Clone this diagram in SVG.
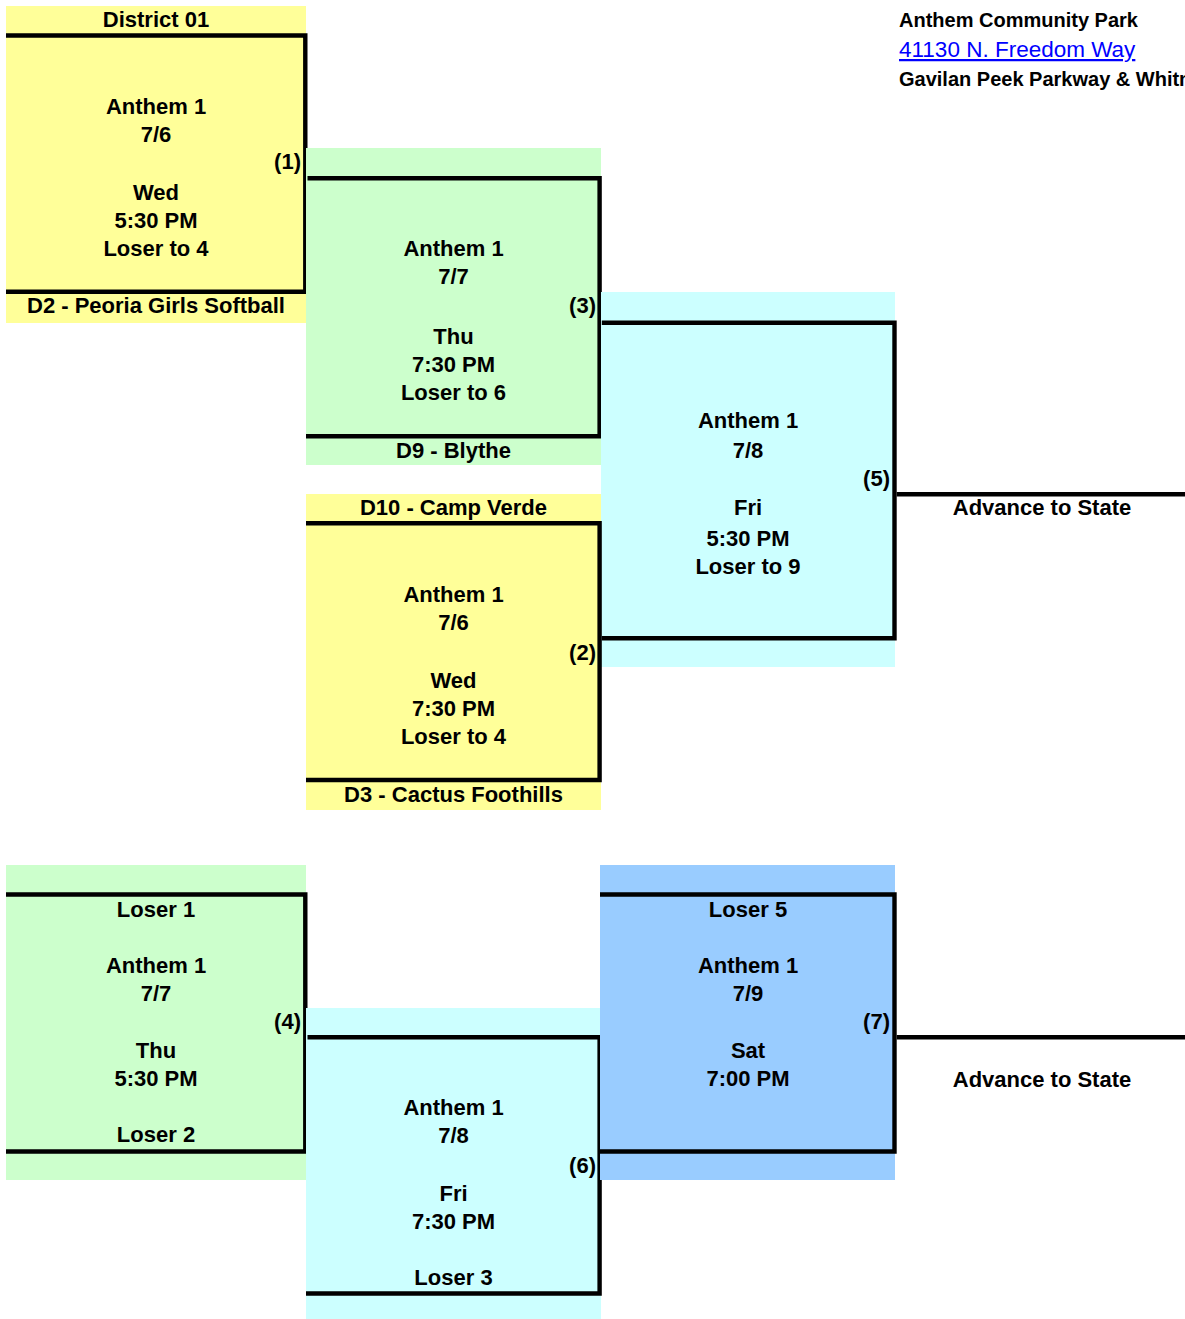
<svg xmlns="http://www.w3.org/2000/svg" width="1185" height="1319" viewBox="0 0 1185 1319">
<style>
.t{font-family:"Liberation Sans",Arial,sans-serif;font-weight:bold;font-size:22px;fill:#000;text-anchor:middle}
.n{font-family:"Liberation Sans",Arial,sans-serif;font-weight:bold;font-size:22px;fill:#000;text-anchor:end}
.h{font-family:"Liberation Sans",Arial,sans-serif;font-weight:bold;font-size:20px;fill:#000}
.lk{font-family:"Liberation Sans",Arial,sans-serif;font-size:22.5px;fill:#0000FF;text-decoration:underline}
.ln{fill:none;stroke:#000;stroke-width:4.4;stroke-linecap:butt;stroke-linejoin:miter}
.y{fill:#FFFF99}.g{fill:#CCFFCC}.c{fill:#CCFFFF}.b{fill:#99CCFF}
</style>
<rect width="1185" height="1319" fill="#fff"/>
<g id="header">
<text class="h" x="899" y="27">Anthem Community Park</text>
<text class="lk" x="899" y="57">41130 N. Freedom Way</text>
<text class="h" x="899" y="86">Gavilan Peek Parkway &amp; Whitn</text>
</g>
<g id="game1">
<rect class="y" x="6" y="6" width="300" height="317"/>
<path class="ln" d="M6,35.5H305.3V291.7H6"/>
<text class="t" x="156" y="27">District 01</text>
<text class="t" x="156" y="114">Anthem 1</text>
<text class="t" x="156" y="142">7/6</text>
<text class="n" x="301" y="169">(1)</text>
<text class="t" x="156" y="200">Wed</text>
<text class="t" x="156" y="228">5:30 PM</text>
<text class="t" x="156" y="256">Loser to 4</text>
<text class="t" x="156" y="313">D2 - Peoria Girls Softball</text>
</g>
<g id="game3">
<rect class="g" x="306" y="148" width="295" height="317"/>
<path class="ln" d="M307.5,178.3H599.6V436.3H306"/>
<text class="t" x="453.5" y="256">Anthem 1</text>
<text class="t" x="453.5" y="284">7/7</text>
<text class="n" x="596" y="313">(3)</text>
<text class="t" x="453.5" y="344">Thu</text>
<text class="t" x="453.5" y="372">7:30 PM</text>
<text class="t" x="453.5" y="400">Loser to 6</text>
<text class="t" x="453.5" y="458">D9 - Blythe</text>
</g>
<g id="game5">
<rect class="c" x="601" y="292" width="294" height="375"/>
<path class="ln" d="M601.8,322.7H894.5V638.3H601.8"/>
<text class="t" x="748" y="428">Anthem 1</text>
<text class="t" x="748" y="458">7/8</text>
<text class="n" x="890" y="486">(5)</text>
<text class="t" x="748" y="515">Fri</text>
<text class="t" x="748" y="546">5:30 PM</text>
<text class="t" x="748" y="574">Loser to 9</text>
</g>
<g id="game2">
<rect class="y" x="306" y="494" width="295" height="316"/>
<path class="ln" d="M306,523.3H599.6V780H306"/>
<text class="t" x="453.5" y="515">D10 - Camp Verde</text>
<text class="t" x="453.5" y="602">Anthem 1</text>
<text class="t" x="453.5" y="630">7/6</text>
<text class="n" x="596" y="660">(2)</text>
<text class="t" x="453.5" y="688">Wed</text>
<text class="t" x="453.5" y="716">7:30 PM</text>
<text class="t" x="453.5" y="744">Loser to 4</text>
<text class="t" x="453.5" y="802">D3 - Cactus Foothills</text>
</g>
<g id="game4">
<rect class="g" x="6" y="865" width="300" height="315"/>
<path class="ln" d="M6,894.5H305.3V1151.5H6"/>
<text class="t" x="156" y="917">Loser 1</text>
<text class="t" x="156" y="973">Anthem 1</text>
<text class="t" x="156" y="1001">7/7</text>
<text class="n" x="301" y="1029">(4)</text>
<text class="t" x="156" y="1058">Thu</text>
<text class="t" x="156" y="1086">5:30 PM</text>
<text class="t" x="156" y="1142">Loser 2</text>
</g>
<g id="game6">
<rect class="c" x="306" y="1008" width="295" height="311"/>
<path class="ln" d="M307.5,1037.3H599.6V1293.5H306"/>
<text class="t" x="453.5" y="1115">Anthem 1</text>
<text class="t" x="453.5" y="1143">7/8</text>
<text class="n" x="596" y="1173">(6)</text>
<text class="t" x="453.5" y="1201">Fri</text>
<text class="t" x="453.5" y="1229">7:30 PM</text>
<text class="t" x="453.5" y="1285">Loser 3</text>
</g>
<g id="game7">
<rect class="b" x="600" y="865" width="295" height="315"/>
<path class="ln" d="M600,894.5H894.5V1151.5H600"/>
<text class="t" x="748" y="917">Loser 5</text>
<text class="t" x="748" y="973">Anthem 1</text>
<text class="t" x="748" y="1001">7/9</text>
<text class="n" x="890" y="1029">(7)</text>
<text class="t" x="748" y="1058">Sat</text>
<text class="t" x="748" y="1086">7:00 PM</text>
</g>
<g id="connectors">
<path class="ln" d="M896.7,494.3H1185"/>
<path class="ln" d="M896.7,1037.3H1185"/>
</g>
<g id="labels">
<text class="t" x="1042" y="515">Advance to State</text>
<text class="t" x="1042" y="1087">Advance to State</text>
</g>
</svg>
